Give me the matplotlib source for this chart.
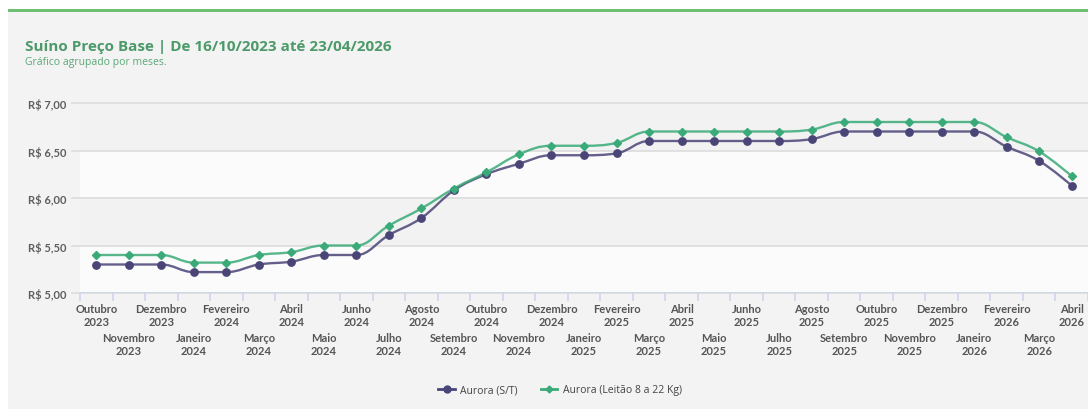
import matplotlib.pyplot as plt
import numpy as np
from matplotlib.path import Path
from matplotlib.patches import PathPatch, Rectangle
from matplotlib.lines import Line2D

plt.rcParams['font.family'] = ['Lato', 'DejaVu Sans']

years = ["2023", "2023", "2023", "2024", "2024", "2024", "2024", "2024", "2024",
         "2024", "2024", "2024", "2024", "2024", "2024", "2025", "2025", "2025",
         "2025", "2025", "2025", "2025", "2025", "2025", "2025", "2025", "2025",
         "2026", "2026", "2026", "2026"]
month_idx = [9, 10, 11, 0, 1, 2, 3, 4, 5, 6, 7, 8, 9, 10, 11, 0, 1, 2, 3, 4, 5,
             6, 7, 8, 9, 10, 11, 0, 1, 2, 3]
month_names = ["Janeiro", "Fevereiro", "Março", "Abril", "Maio", "Junho",
               "Julho", "Agosto", "Setembro", "Outubro", "Novembro", "Dezembro"]
months = [month_names[m] for m in month_idx]

aurora_st = [5.30, 5.30, 5.30, 5.22, 5.22, 5.30, 5.33, 5.40, 5.40, 5.61, 5.79,
             6.08, 6.25, 6.36, 6.45, 6.45, 6.47, 6.60, 6.60, 6.60, 6.60, 6.60,
             6.62, 6.70, 6.70, 6.70, 6.70, 6.70, 6.54, 6.39, 6.13]
aurora_leitao = [5.40, 5.40, 5.40, 5.32, 5.32, 5.40, 5.43, 5.50, 5.50, 5.71, 5.89,
                 6.10, 6.27, 6.46, 6.55, 6.55, 6.58, 6.70, 6.70, 6.70, 6.70, 6.70,
                 6.72, 6.80, 6.80, 6.80, 6.80, 6.80, 6.64, 6.49, 6.23]
y_ticks = [5.0, 5.5, 6.0, 6.5, 7.0]

PURPLE = "#4a4577"
GREEN = "#3aab78"


def spline_path(xs, ys, smoothing=1.5):
    # bezier path like a highcharts "spline" series
    n = len(xs)
    verts = [(xs[0], ys[0])]
    codes = [Path.MOVETO]
    lefts = [(xs[0], ys[0])] * n
    rights = [(xs[0], ys[0])] * n
    for i in range(n):
        x, y = xs[i], ys[i]
        if i == 0 or i == n - 1:
            lefts[i] = (x, y)
            rights[i] = (x, y)
            continue
        x0, y0 = xs[i - 1], ys[i - 1]
        x2, y2 = xs[i + 1], ys[i + 1]
        d = smoothing + 1
        lx, ly = (smoothing * x + x0) / d, (smoothing * y + y0) / d
        rx, ry = (smoothing * x + x2) / d, (smoothing * y + y2) / d
        corr = ((ry - ly) * (rx - x)) / (rx - lx) + y - ry
        ly += corr
        ry += corr
        if ly > max(y0, y):
            ly = max(y0, y)
            ry = 2 * y - ly
        elif ly < min(y0, y):
            ly = min(y0, y)
            ry = 2 * y - ly
        if ry > max(y, y2):
            ry = max(y, y2)
            ly = 2 * y - ry
        elif ry < min(y, y2):
            ry = min(y, y2)
            ly = 2 * y - ry
        lefts[i] = (lx, ly)
        rights[i] = (rx, ry)
    for i in range(1, n):
        verts += [rights[i - 1], lefts[i], (xs[i], ys[i])]
        codes += [Path.CURVE4] * 3
    return Path(verts, codes)


fig = plt.figure(figsize=(10.88, 4.10), dpi=100)
fig.patch.set_facecolor("white")
# card background and top green bar
fig.patches.append(Rectangle((8 / 1088, 0), 1, 398 / 410, transform=fig.transFigure,
                             facecolor="#f3f3f3", edgecolor="none", zorder=-10))
fig.patches.append(Rectangle((8 / 1088, 397 / 410), 1, 3 / 410, transform=fig.transFigure,
                             facecolor="#6fbf73", edgecolor="none", zorder=-9))

ax = fig.add_axes([80 / 1088, 116 / 410, 1008 / 1088, 190 / 410])
ax.set_zorder(1)
ax.set_facecolor("none")
x = np.arange(len(months))
ax.set_xlim(-0.5, len(months) - 0.5)
ax.set_ylim(5.0, 7.0)

# alternating bands
for i in range(len(y_ticks) - 1):
    col = "#fbfbfb" if i % 2 == 0 else "#f2f2f2"
    ax.axhspan(y_ticks[i], y_ticks[i + 1], color=col, zorder=0, lw=0)

for yv in y_ticks:
    ax.plot([-0.75, len(months) - 0.5], [yv, yv], color="#dcdcdc", lw=1.2,
            clip_on=False, zorder=1)

for series, color, marker, ms in [(aurora_st, PURPLE, "o", 5.3),
                                  (aurora_leitao, GREEN, "D", 3.8)]:
    p = spline_path(list(x), list(series))
    ax.add_patch(PathPatch(p, facecolor="none", edgecolor=color, lw=1.7, zorder=3,
                           alpha=0.85))
    ax.plot(x, series, linestyle="none", marker=marker, ms=ms, color=color, zorder=4)

for s in ax.spines.values():
    s.set_visible(False)
ax.axhline(5.0, color="#ccd6eb", lw=1.2, zorder=2)

ax.set_yticks(y_ticks)
ax.set_yticklabels(["R$ " + f"{v:.2f}".replace(".", ",") for v in y_ticks],
                   fontsize=8, color="#5e5e5e", fontweight="bold")
ax.tick_params(axis="y", length=0, pad=10)

ax.set_xticks(np.arange(-0.5, len(months), 1.0))
ax.set_xticklabels([])
ax.tick_params(axis="x", length=6, color="#ccd6eb", width=1.2)

# staggered two-row month labels
for i, (m, yr) in enumerate(zip(months, years)):
    base = 13.5 if i % 2 == 0 else 34.5
    ax.annotate(m, (i, 5.0), xytext=(0, -base), textcoords="offset points",
                ha="center", va="baseline", fontsize=8, color="#555555",
                fontweight="bold", annotation_clip=False)
    ax.annotate(yr, (i, 5.0), xytext=(0, -base - 9.4), textcoords="offset points",
                ha="center", va="baseline", fontsize=8, color="#555555",
                fontweight="bold", annotation_clip=False)

fig.text(25 / 1088, 1 - 47 / 410, "Suíno Preço Base | De 16/10/2023 até 23/04/2026",
         fontsize=11, fontweight="bold", color="#4c9a6a", va="center",
         family=["Open Sans", "DejaVu Sans"])
fig.text(25 / 1088, 1 - 62 / 410, "Gráfico agrupado por meses.",
         fontsize=7.5, color="#5aa878", va="center", family=["Open Sans", "DejaVu Sans"])

handles = [Line2D([], [], color=PURPLE, marker="o", ms=5, lw=2),
           Line2D([], [], color=GREEN, marker="D", ms=3.5, lw=2)]
fig.legend(handles, ["Aurora (S/T)", "Aurora (Leitão 8 a 22 Kg)"],
           loc="center", bbox_to_anchor=(560 / 1088, 1 - 391 / 410), ncol=2,
           frameon=False, prop={"family": ["Open Sans", "DejaVu Sans"], "size": 7.5},
           labelcolor="#444444", handlelength=1.6,
           columnspacing=2.2, handletextpad=0.5)

fig.savefig("out.png", dpi=100)
